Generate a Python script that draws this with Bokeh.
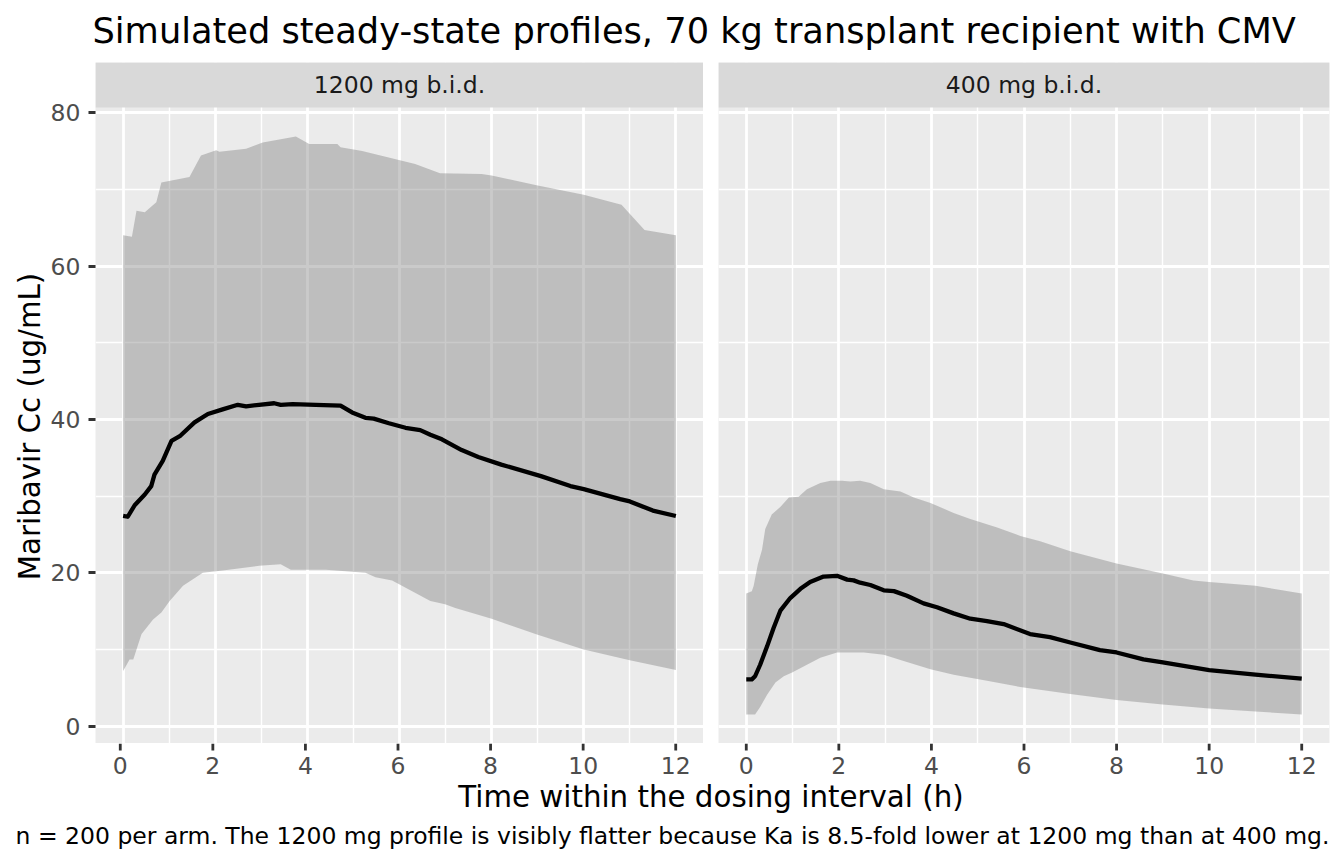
import math
from bokeh.plotting import figure
from bokeh.layouts import column, row
from bokeh.models import Range1d, FixedTicker, Grid, Spacer
from bokeh.embed import file_html
from bokeh.resources import INLINE
from bokeh.core.properties import value

FONT = "DejaVu Sans"

# ---------------- data ----------------
panel_labels = ["1200 mg b.i.d.", "400 mg b.i.d."]

# 1200 mg b.i.d.
t_hi_1200 = [0, 0.19, 0.29, 0.47, 0.72, 0.83, 1.44, 1.69, 2.02, 2.09, 2.67, 3.03, 3.75, 4.04,
             4.65, 4.72, 5.19, 6.34, 6.88, 7.78, 8.0, 9.0, 10.0, 10.82, 11.32, 12.0]
hi_1200 = [64.0, 63.8, 67.2, 67.0, 68.3, 70.9, 71.6, 74.4, 75.1, 74.9, 75.3, 76.1, 76.9, 75.9,
           75.9, 75.5, 75.0, 73.3, 72.1, 72.0, 71.8, 70.5, 69.3, 68.0, 64.7, 64.0]
t_lo_1200 = [0, 0.14, 0.22, 0.40, 0.65, 0.83, 1.01, 1.30, 1.73, 2.16, 2.95, 3.42, 3.64, 4.40,
             5.26, 5.48, 5.84, 6.67, 6.99, 7.21, 8.0, 9.0, 10.0, 11.0, 12.0]
lo_1200 = [7.2, 8.7, 8.7, 12.0, 13.9, 14.8, 16.3, 18.3, 20.0, 20.3, 20.9, 21.1, 20.4, 20.4,
           20.0, 19.4, 19.0, 16.3, 15.9, 15.4, 14.0, 11.9, 10.0, 8.6, 7.3]
t_med_1200 = [0, 0.1, 0.25, 0.47, 0.61, 0.68, 0.86, 1.05, 1.23, 1.55, 1.84, 2.16, 2.49, 2.67,
              2.95, 3.28, 3.42, 3.68, 4.18, 4.72, 4.97, 5.26, 5.44, 5.77, 6.13, 6.45, 6.67,
              6.92, 7.35, 7.71, 8.21, 9.07, 9.71, 10.0, 10.79, 11.0, 11.5, 12.0]
med_1200 = [27.4, 27.3, 28.8, 30.2, 31.3, 32.8, 34.6, 37.2, 37.8, 39.6, 40.7, 41.3, 41.9, 41.7,
            41.9, 42.1, 41.9, 42.0, 41.9, 41.8, 40.9, 40.2, 40.1, 39.5, 38.9, 38.6, 38.0,
            37.4, 36.0, 35.1, 34.1, 32.6, 31.3, 30.9, 29.6, 29.3, 28.1, 27.4]

# 400 mg b.i.d.
t_hi_400 = [0, 0.12, 0.16, 0.25, 0.34, 0.41, 0.55, 0.74, 0.92, 1.13, 1.31, 1.60, 1.82, 2.07,
            2.25, 2.46, 2.68, 2.97, 3.33, 3.62, 3.98, 4.48, 4.84, 5.42, 5.92, 6.35, 7.0, 8.0,
            9.0, 9.66, 10.0, 11.0, 12.0]
hi_400 = [17.3, 17.6, 18.3, 21.1, 23.0, 25.7, 27.6, 28.6, 29.8, 29.9, 30.9, 31.7, 32.0, 32.0,
          31.9, 32.0, 31.7, 30.9, 30.6, 29.8, 29.1, 27.8, 27.0, 25.9, 24.8, 24.1, 22.8, 21.2,
          19.9, 19.0, 18.8, 18.3, 17.3]
t_lo_400 = [0, 0.19, 0.30, 0.45, 0.63, 0.81, 0.99, 1.31, 1.60, 1.96, 2.54, 2.97, 3.40, 3.98,
            4.48, 5.20, 5.92, 7.0, 8.0, 9.0, 10.0, 11.0, 12.0]
lo_400 = [1.5, 1.5, 2.5, 4.1, 5.7, 6.5, 7.0, 8.0, 8.9, 9.6, 9.6, 9.3, 8.5, 7.4,
          6.7, 5.9, 5.1, 4.2, 3.4, 2.8, 2.3, 1.9, 1.5]
t_med_400 = [0, 0.12, 0.19, 0.30, 0.45, 0.59, 0.74, 0.95, 1.17, 1.38, 1.67, 1.96, 2.18, 2.32,
             2.46, 2.68, 2.97, 3.19, 3.47, 3.83, 4.12, 4.48, 4.84, 5.20, 5.56, 6.13, 6.56, 7.0,
             7.64, 8.0, 8.58, 9.0, 10.0, 11.0, 12.0]
med_400 = [6.1, 6.1, 6.5, 8.0, 10.4, 12.8, 15.1, 16.7, 17.9, 18.8, 19.5, 19.6, 19.1, 19.0,
           18.7, 18.4, 17.7, 17.6, 17.0, 16.0, 15.5, 14.7, 14.0, 13.7, 13.3, 12.0, 11.6, 10.9,
           9.9, 9.6, 8.7, 8.3, 7.3, 6.7, 6.2]

x_ticks = [0, 2, 4, 6, 8, 10, 12]
x_tick_labels = ["0", "2", "4", "6", "8", "10", "12"]
x_minor = [1, 3, 5, 7, 9, 11]
y_ticks = [0, 20, 40, 60, 80]
y_minor = [10, 30, 50, 70]

title_text = "Simulated steady-state profiles, 70 kg transplant recipient with CMV"
x_title = "Time within the dosing interval (h)"
y_title = "Maribavir Cc (ug/mL)"
caption_text = ("n = 200 per arm. The 1200 mg profile is visibly flatter because Ka is "
                "8.5-fold lower at 1200 mg than at 400 mg.")

# ---------------- scales ----------------
all_band = hi_1200 + lo_1200 + hi_400 + lo_400
ymin, ymax = min(all_band), max(all_band)
ypad = 0.05 * (ymax - ymin)
y_lo, y_hi = ymin - ypad, ymax + ypad
x_lo, x_hi = -0.6, 12.6

# ---------------- layout sizes (pixels) ----------------
W = 1344
H = 864
TITLE_H = 62           # title band
STRIP_H = 45           # facet strip (drawn inside the frame top)
DATA_H = 636           # data area height
PANEL_H = STRIP_H + DATA_H
TICKROW_H = 38         # tick marks (7 px) + tick labels
TICK_LEN = 7
FOOT_H = H - TITLE_H - PANEL_H - TICKROW_H
YLAB_W = 47
LEFT_B = 45            # tick labels area of left panel
FRAME_W = 611
GAP = 15
RIGHT_B = 15

upp = (y_hi - y_lo) / DATA_H          # data units per pixel
y_top = y_hi + STRIP_H * upp

TICK_FS = "23.5px"
AXT_FS = "29.3px"
TITLE_FS = "35.2px"


def text_fig(width, height):
    f = figure(width=width, height=height, x_range=Range1d(0, width), y_range=Range1d(0, height),
               output_backend="svg", toolbar_location=None, min_border=0,
               x_axis_location=None, y_axis_location=None, outline_line_color=None,
               background_fill_color="white", border_fill_color="white")
    f.grid.visible = False
    return f


def tickrow_fig(width, left_b, right_b):
    """x tick marks and labels, sharing the panel's x scale."""
    f = figure(width=width, height=TICKROW_H, x_range=Range1d(x_lo, x_hi),
               y_range=Range1d(0, TICKROW_H), output_backend="svg", toolbar_location=None,
               min_border_left=left_b, min_border_right=right_b, min_border_top=0,
               min_border_bottom=0, x_axis_location=None, y_axis_location=None,
               outline_line_color=None, background_fill_color="white",
               border_fill_color="white")
    f.grid.visible = False
    n = len(x_ticks)
    f.segment(x0=x_ticks, x1=x_ticks, y0=[TICKROW_H] * n, y1=[TICKROW_H - TICK_LEN] * n,
              line_color="#333333", line_width=2.8)
    f.text(x=x_ticks, y=[16] * n, text=x_tick_labels,
           text_align="center", text_baseline="alphabetic", text_font=value(FONT),
           text_font_size=TICK_FS, text_color="#4D4D4D")
    return f


def panel_fig(width, left_b, right_b, show_y, label, t_hi, hi, t_lo, lo, t_med, med):
    p = figure(width=width, height=PANEL_H, x_range=Range1d(x_lo, x_hi), y_range=Range1d(y_lo, y_top),
               output_backend="svg", toolbar_location=None,
               min_border_left=left_b, min_border_right=right_b, min_border_top=0,
               min_border_bottom=0,
               x_axis_location=None, y_axis_location="left" if show_y else None,
               background_fill_color="#EBEBEB", border_fill_color="white",
               outline_line_color=None)
    p.grid.visible = False
    p.add_layout(Grid(dimension=0, ticker=FixedTicker(ticks=x_ticks, minor_ticks=x_minor),
                      grid_line_color="white", grid_line_width=2.8,
                      minor_grid_line_color="white", minor_grid_line_width=1.4))
    p.add_layout(Grid(dimension=1, ticker=FixedTicker(ticks=y_ticks, minor_ticks=y_minor),
                      grid_line_color="white", grid_line_width=2.8,
                      minor_grid_line_color="white", minor_grid_line_width=1.4))

    if show_y:
        ya = p.yaxis[0]
        ya.ticker = FixedTicker(ticks=y_ticks)
        ya.axis_line_color = None
        ya.major_tick_line_color = "#333333"
        ya.major_tick_line_width = 2.8
        ya.major_tick_out = TICK_LEN
        ya.major_tick_in = 0
        ya.minor_tick_line_color = None
        ya.major_label_text_font = FONT
        ya.major_label_text_font_size = TICK_FS
        ya.major_label_text_color = "#4D4D4D"
        ya.major_label_standoff = 8

    # ribbon (5th-95th band) and median
    px = list(t_hi) + list(reversed(t_lo))
    py = list(hi) + list(reversed(lo))
    p.patch(px, py, fill_color="#808080", fill_alpha=0.42, line_color=None)
    p.line(t_med, med, line_color="black", line_width=4.3, line_join="round")

    # facet strip
    p.quad(left=[x_lo], right=[x_hi], bottom=[y_hi], top=[y_top],
           fill_color="#D9D9D9", line_color=None)
    p.text(x=[(x_lo + x_hi) / 2], y=[y_hi + 22.5 * upp], text=[label], text_align="center",
           text_baseline="alphabetic", text_font=value(FONT), text_font_size=TICK_FS,
           text_color="#1A1A1A")
    return p


# title
title_fig = text_fig(W, TITLE_H)
title_fig.text(x=[YLAB_W + LEFT_B], y=[TITLE_H - 29.5], text=[title_text], text_align="left",
               text_baseline="alphabetic", text_font=value(FONT), text_font_size=TITLE_FS,
               text_color="black")

# y axis title
ylab = text_fig(YLAB_W, PANEL_H)
ylab.text(x=[29.5], y=[PANEL_H - (426 - TITLE_H)], text=[y_title], angle=math.pi / 2,
          text_align="center", text_baseline="alphabetic", text_font=value(FONT),
          text_font_size=AXT_FS, text_color="black")

left = panel_fig(LEFT_B + FRAME_W, LEFT_B, 0, True, panel_labels[0],
                 t_hi_1200, hi_1200, t_lo_1200, lo_1200, t_med_1200, med_1200)
right = panel_fig(GAP + FRAME_W + RIGHT_B, GAP, RIGHT_B, False, panel_labels[1],
                  t_hi_400, hi_400, t_lo_400, lo_400, t_med_400, med_400)
panel_row = row(ylab, left, right)

tick_row = row(Spacer(width=YLAB_W, height=TICKROW_H),
               tickrow_fig(LEFT_B + FRAME_W, LEFT_B, 0),
               tickrow_fig(GAP + FRAME_W + RIGHT_B, GAP, RIGHT_B))

foot = text_fig(W, FOOT_H)
x_center = YLAB_W + LEFT_B + FRAME_W + GAP / 2
foot.text(x=[x_center], y=[H - 796.5], text=[x_title], text_align="center",
          text_baseline="alphabetic", text_font=value(FONT), text_font_size=AXT_FS,
          text_color="black")
foot.text(x=[W - RIGHT_B], y=[H - 835.5], text=[caption_text], text_align="right",
          text_baseline="alphabetic", text_font=value(FONT), text_font_size=TICK_FS,
          text_color="black")

layout = column(title_fig, panel_row, tick_row, foot)

with open("out.html", "w") as fh:
    fh.write(file_html(layout, INLINE))
